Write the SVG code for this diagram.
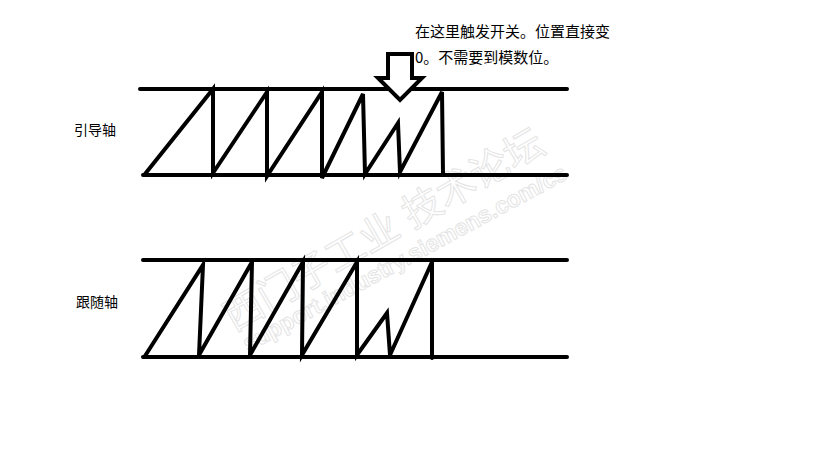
<svg xmlns="http://www.w3.org/2000/svg" width="819" height="460" viewBox="0 0 819 460">
<style>
.ln{fill:none;stroke:#000;stroke-width:4;stroke-linecap:round;stroke-linejoin:miter}
.lbl{font-family:"Noto Sans CJK SC","Liberation Sans",sans-serif;font-size:14px;fill:#000}
.note{font-family:"Noto Sans CJK SC","Liberation Sans",sans-serif;font-size:15px;fill:#000}
.wm{font-family:"Liberation Sans","Noto Sans CJK SC",sans-serif;fill:#fff;stroke:#e4e4e4;stroke-width:1}
</style>
<rect width="819" height="460" fill="#fff"/>
<g id="watermark">
<text class="wm" x="0" y="0" font-size="39" transform="translate(234,332) rotate(-30)">西门子工业  技术论坛</text>
<text class="wm" x="0" y="0" font-size="23" font-weight="bold" transform="translate(248,352) rotate(-28.5)">support.industry.siemens.com/cs</text>
</g>
<g id="lead-axis">
<line class="ln" x1="140" y1="89" x2="567" y2="89"/>
<line class="ln" x1="143" y1="175" x2="567" y2="175"/>
<polyline class="ln" points="145,174 213,89 213,173 267,92 267,176 322,92 322,178 363,94 365,174 398,123 400,172 442,92 443,174"/>
</g>
<g id="follow-axis">
<line class="ln" x1="143" y1="260" x2="567" y2="260"/>
<line class="ln" x1="143" y1="357" x2="567" y2="357"/>
<polyline class="ln" points="145,356 203,265 199,355 252,262 250,355 303,262 302,355 357,262 357,355 387,313 390,355 432,262 432,358"/>
</g>
<g id="trigger-arrow">
<polygon points="388,54 412,54 412,78 422,78 400,100 378,78 388,78" fill="#fff" stroke="#000" stroke-width="4" stroke-linejoin="miter"/>
</g>
<g id="label-lead"><text class="lbl" x="74" y="135">引导轴</text></g>
<g id="label-follow"><text class="lbl" x="76" y="307">跟随轴</text></g>
<g id="note">
<text class="note" x="415" y="37">在这里触发开关。位置直接变</text>
<text class="note" x="415" y="63">0。不需要到模数位。</text>
</g>
</svg>
